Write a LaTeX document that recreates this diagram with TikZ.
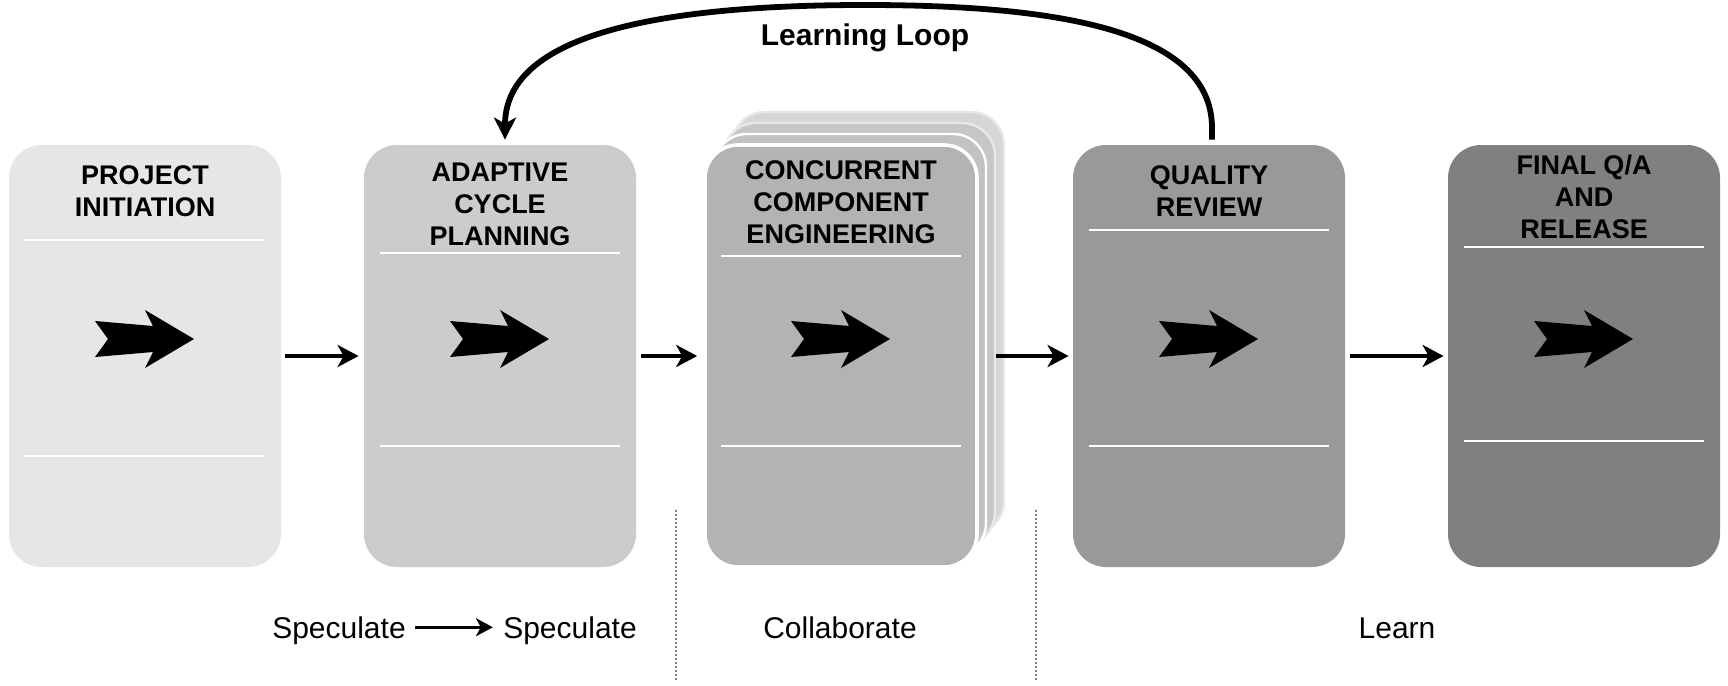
\documentclass[tikz,border=0pt]{standalone}
\usepackage{fontspec}
\setmainfont{Liberation Sans}
\usetikzlibrary{arrows.meta}
\definecolor{cA}{HTML}{E6E6E6}
\definecolor{cB}{HTML}{CCCCCC}
\definecolor{cC}{HTML}{B3B3B3}
\definecolor{cD}{HTML}{999999}
\definecolor{cE}{HTML}{808080}
\definecolor{sA}{HTML}{C2C2C2}
\definecolor{sB}{HTML}{C6C6C6}
\definecolor{sC}{HTML}{D6D6D6}
\definecolor{sE}{HTML}{E8E8E8}
\definecolor{dotc}{HTML}{808080}
\tikzset{
  chev/.pic={\fill[black] (-50,-18) -- (-37,0) -- (-50,18) -- (8,13) -- (0,29) -- (49,0) -- (0,-29) -- (8,-13) -- cycle;}
}
\begin{document}
\begin{tikzpicture}[x=0.5pt,y=-0.5pt,
  box/.style={rectangle, rounded corners=16.5pt, minimum width=136pt, minimum height=211pt, inner sep=0pt, draw=none},
  sheet/.style={box, draw=sE, line width=1.2pt},
  title/.style={font=\bfseries\fontsize{13.5}{16}\selectfont, align=center, inner sep=0pt},
  lbl/.style={font=\fontsize{15}{18}\selectfont, inner sep=0pt, anchor=base},
  sepline/.style={draw=white, line width=1pt},
  conn/.style={draw=black, line width=2.2pt, -{Stealth[length=10.5pt,width=11pt,inset=3pt]}},
  loopc/.style={draw=black, line width=2.9pt, -{Stealth[length=11pt,width=11pt,inset=3pt]}},
  small/.style={draw=black, line width=1.7pt, -{Stealth[length=8.5pt,width=9pt,inset=2.5pt]}},
  dotl/.style={draw=dotc, line width=0.8pt, dash pattern=on 1pt off 1pt}
]
\useasboundingbox (0,0) rectangle (1728,685);
\fill[white] (0,0) rectangle (1728,685);

% boxes
\node[box, fill=cA] (b1) at (145,356) {};
\node[box, fill=cB] (b2) at (500,356) {};
\node[sheet, fill=sC] (s3) at (868,323) {};
\node[sheet, fill=sB] (s2) at (859,334) {};
\node[sheet, fill=sA, draw=white] (s1) at (850,345) {};
\node[box, fill=cC, draw=white, line width=1.8pt] (b3) at (841,356) {};
\node[box, fill=cD] (b4) at (1209,356) {};
\node[box, fill=cE] (b5) at (1584,356) {};

% titles
\node[title] (t1) at (145,191.5) {PROJECT\\INITIATION};
\node[title] (t2) at (500,204.5) {ADAPTIVE\\CYCLE\\PLANNING};
\node[title] (t3) at (841,202) {CONCURRENT\\COMPONENT\\ENGINEERING};
\node[title] (t4) at (1209,191.5) {QUALITY\\REVIEW};
\node[title] (t5) at (1584,197) {FINAL Q/A\\AND\\RELEASE};

% separator lines
\draw[sepline] (25,240) -- (265,240);
\draw[sepline] (25,456) -- (265,456);
\draw[sepline] (380,253) -- (620,253);
\draw[sepline] (380,446) -- (620,446);
\draw[sepline] (721,256) -- (961,256);
\draw[sepline] (721,446) -- (961,446);
\draw[sepline] (1089,230) -- (1329,230);
\draw[sepline] (1089,446) -- (1329,446);
\draw[sepline] (1464,247) -- (1704,247);
\draw[sepline] (1464,441) -- (1704,441);

% chevrons
\pic at (145,339) {chev};
\pic at (500,339) {chev};
\pic at (841,339) {chev};
\pic at (1209,339) {chev};
\pic at (1584,339) {chev};

% connectors
\draw[conn, shorten <=2pt, shorten >=2.5pt] (b1) -- (b2);
\draw[conn, shorten <=2.5pt, shorten >=3pt] (b2) -- (b3);
\draw[conn, shorten <=8.5pt, shorten >=2pt] (b3) -- (b4);
\draw[conn, shorten <=2.5pt, shorten >=2pt] (b4) -- (b5);

% learning loop
\draw[loopc, shorten <=2.5pt, shorten >=2.5pt] ([xshift=1.5pt]b4.north) -- (1212,128)
  .. controls (1212,28) and (1050,5) .. (865,5)
  .. controls (640,5) and (505,40) .. ([xshift=2.5pt]b2.north);
\node[font=\bfseries\fontsize{15}{18}\selectfont, inner sep=0pt, anchor=base] (ll) at (865,46) {Learning Loop};

% bottom labels
\node[lbl] (sp1) at (339,638) {Speculate};
\node[lbl] (sp2) at (570,638) {Speculate};
\node[lbl] (col) at (840,638) {Collaborate};
\node[lbl] (lrn) at (1397,638) {Learn};
\draw[small, shorten <=4.5pt, shorten >=5pt] ([yshift=1.5pt]sp1.east) -- ([yshift=1.5pt]sp2.west);

% dotted dividers
\draw[dotl] (676,510) -- (676,681);
\draw[dotl] (1036,510) -- (1036,681);
\end{tikzpicture}
\end{document}
